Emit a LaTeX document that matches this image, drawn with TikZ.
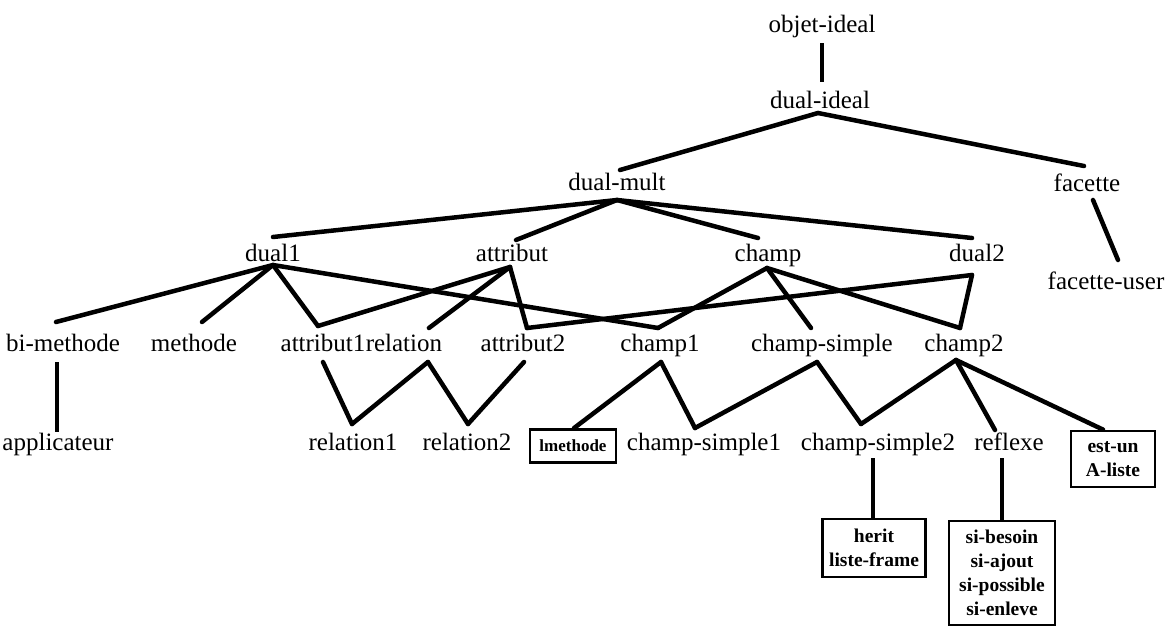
\documentclass[tikz,border=0pt]{standalone}
\usepackage{fontspec}
\setmainfont{Liberation Serif}
\usetikzlibrary{calc}
\begin{document}
\begin{tikzpicture}[x=1pt,y=-1pt,
  lbl/.style={font=\fontsize{25}{27}\selectfont, anchor=base, inner sep=0pt},
  bx/.style={draw, line width=2.8pt, font=\bfseries\fontsize{19.5}{24}\selectfont, align=center, inner sep=0pt},
  edge/.style={line width=4.5pt, line cap=round},
  vedge/.style={line width=3.2pt}]
\useasboundingbox (0,0) rectangle (1172,627);
% labels
\node[lbl] (objet) at (822,32) {objet-ideal};
\node[lbl] (dideal) at (820,108) {dual-ideal};
\node[lbl] (dmult) at (617,190) {dual-mult};
\node[lbl] (facette) at (1087,191) {facette};
\node[lbl] (fuser) at (1106,289) {facette-user};
\node[lbl] (dual1) at (273,261) {dual1};
\node[lbl] (attribut) at (512,261) {attribut};
\node[lbl] (champ) at (768,261) {champ};
\node[lbl] (dual2) at (977,261) {dual2};
\node[lbl] (bimethode) at (63,351) {bi-methode};
\node[lbl] (methode) at (194,351) {methode};
\node[lbl] (attr1) at (323,351) {attribut1};
\node[lbl, anchor=base west] (relation) at (attr1.base east) {relation};
\node[lbl] (attr2) at (523,351) {attribut2};
\node[lbl] (champ1) at (660,351) {champ1};
\node[lbl] (csimple) at (822,351) {champ-simple};
\node[lbl] (champ2) at (964,351) {champ2};
\node[lbl] (applic) at (58,450) {applicateur};
\node[lbl] (rel1) at (353,450) {relation1};
\node[lbl] (rel2) at (467,450) {relation2};
\node[lbl] (cs1) at (704,450) {champ-simple1};
\node[lbl] (cs2) at (878,450) {champ-simple2};
\node[lbl] (reflexe) at (1009,450) {reflexe};
% boxes
\node[bx, minimum width=86pt, minimum height=33pt, font=\bfseries\fontsize{17}{20}\selectfont] (lmeth) at (573,446) {lmethode};
\node[bx, minimum width=84pt, minimum height=56pt] (estun) at (1113,459) {est-un\\A-liste};
\node[bx, minimum width=103pt, minimum height=58pt] (herit) at (874,548) {herit\\liste-frame};
\node[bx, minimum width=106pt, minimum height=104pt] (sib) at (1002,573) {si-besoin\\si-ajout\\si-possible\\si-enleve};
% connectors
\draw[vedge] ($(objet.base)+(0,11)$) -- ($(dideal.base)+(2,-26)$);
\draw[edge] ($(dideal.base)+(-2,5)$) -- ($(dmult.base)+(3,-20)$);
\draw[edge] ($(dideal.base)+(-2,5)$) -- ($(facette.base)+(-3,-25)$);
\draw[edge] ($(dmult.base)+(0,10)$) -- ($(dual1.base)+(0,-24)$);
\draw[edge] ($(dmult.base)+(0,10)$) -- ($(attribut.base)+(4,-21)$);
\draw[edge] ($(dmult.base)+(0,10)$) -- ($(champ.base)+(-10,-23)$);
\draw[edge] ($(dmult.base)+(0,10)$) -- ($(dual2.base)+(-5,-23)$);
\draw[edge] ($(facette.base)+(6,9)$) -- ($(fuser.base)+(12,-29)$);
\draw[edge] ($(dual1.base)+(0,4)$) -- ($(bimethode.base)+(-7,-29)$);
\draw[edge] ($(dual1.base)+(0,4)$) -- ($(methode.base)+(8,-29)$);
\draw[edge] ($(dual1.base)+(0,4)$) -- ($(attr1.base)+(-5,-25)$);
\draw[edge] ($(dual1.base)+(0,4)$) -- ($(champ1.base)+(-2,-23)$);
\draw[edge] ($(attribut.base)+(-2,6)$) -- ($(attr1.base)+(-5,-25)$);
\draw[edge] ($(attribut.base)+(-2,6)$) -- ($(relation.base)+(25,-23)$);
\draw[edge] ($(attribut.base)+(-2,6)$) -- ($(attr2.base)+(4,-23)$);
\draw[edge] ($(dual2.base)+(-5,14)$) -- ($(attr2.base)+(4,-23)$);
\draw[edge] ($(dual2.base)+(-5,14)$) -- ($(champ2.base)+(-4,-23)$);
\draw[edge] ($(champ.base)+(-1,7)$) -- ($(champ1.base)+(-2,-23)$);
\draw[edge] ($(champ.base)+(-1,7)$) -- ($(csimple.base)+(-11,-23)$);
\draw[edge] ($(champ.base)+(-1,7)$) -- ($(champ2.base)+(-4,-23)$);
\draw[vedge] ($(bimethode.base)+(-6,11)$) -- ($(applic.base)+(-1,-18)$);
\draw[edge] ($(attr1.base)+(0,11)$) -- ($(rel1.base)+(-1,-26)$);
\draw[edge] ($(relation.base)+(24,11)$) -- ($(rel1.base)+(-1,-26)$);
\draw[edge] ($(relation.base)+(24,11)$) -- ($(rel2.base)+(1,-26)$);
\draw[edge] ($(attr2.base)+(1,11)$) -- ($(rel2.base)+(1,-26)$);
\draw[edge] ($(champ1.base)+(1,11)$) -- ($(lmeth.north)+(1,0)$);
\draw[edge] ($(champ1.base)+(1,11)$) -- ($(cs1.base)+(-9,-22)$);
\draw[edge] ($(csimple.base)+(-5,11)$) -- ($(cs1.base)+(-9,-22)$);
\draw[edge] ($(csimple.base)+(-5,11)$) -- ($(cs2.base)+(-17,-26)$);
\draw[edge] ($(champ2.base)+(-8,9)$) -- ($(cs2.base)+(-17,-26)$);
\draw[edge] ($(champ2.base)+(-8,9)$) -- ($(reflexe.base)+(-14,-20)$);
\draw[edge] ($(champ2.base)+(-8,9)$) -- ($(estun.north)+(-10,0)$);
\draw[vedge] ($(cs2.base)+(-5,8)$) -- ($(herit.north)+(-1,0)$);
\draw[vedge] ($(reflexe.base)+(-7,8)$) -- (sib.north);
\end{tikzpicture}
\end{document}
